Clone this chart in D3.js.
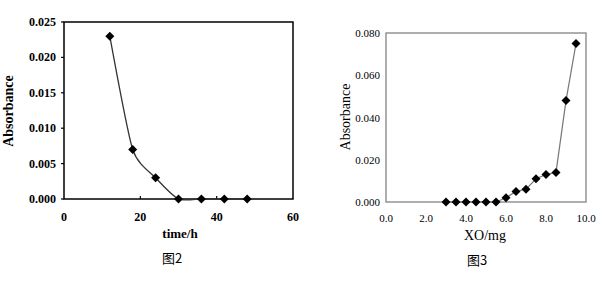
<!DOCTYPE html>
<html>
<head>
<meta charset="utf-8">
<script src="https://cdn.jsdelivr.net/npm/d3@7"></script>
<style>
  body { margin: 0; background: #fff; }
  svg { display: block; }
</style>
</head>
<body>
<svg id="chart" width="600" height="283"></svg>
<script>
// figure 2: absorbance vs time
const timeHours = [12, 18, 24, 30, 36, 42, 48];
const timeAbs = [0.023, 0.007, 0.003, 0, 0, 0, 0];
const timeXTicks = [0, 20, 40, 60];
const timeYTicks = [0, 0.005, 0.010, 0.015, 0.020, 0.025];

// figure 3: absorbance vs XO amount
const xoMg = [3, 3.5, 4, 4.5, 5, 5.5, 6, 6.5, 7, 7.5, 8, 8.5, 9, 9.5];
const xoAbs = [0, 0, 0, 0, 0, 0, 0.002, 0.005, 0.006, 0.011, 0.013, 0.014, 0.048, 0.075];
const xoXTicks = [0, 2, 4, 6, 8, 10];
const xoYTicks = [0, 0.02, 0.04, 0.06, 0.08];

const svg = d3.select("#chart");
const serif = "'Liberation Serif', 'DejaVu Serif', serif";
const cjk = "'Noto Sans CJK SC', sans-serif";
const diamond = d3.symbol().type(d3.symbolDiamond2).size(52);

// ---- left chart ----
{
  const x = d3.scaleLinear().domain([0, 60]).range([64, 293]);
  const y = d3.scaleLinear().domain([0, 0.025]).range([199, 22]);
  const g = svg.append("g");

  g.append("rect")
    .attr("x", 64).attr("y", 22)
    .attr("width", 229).attr("height", 177)
    .attr("fill", "none").attr("stroke", "#000").attr("stroke-width", 1.5);

  // small inward ticks on x axis
  g.selectAll(".xt").data(timeXTicks.slice(1, -1)).enter().append("line")
    .attr("x1", d => x(d)).attr("x2", d => x(d))
    .attr("y1", 199).attr("y2", 196)
    .attr("stroke", "#000").attr("stroke-width", 1.2);

  g.selectAll(".yt").data(timeYTicks).enter().append("line")
    .attr("x1", 61).attr("x2", 64)
    .attr("y1", d => y(d)).attr("y2", d => y(d))
    .attr("stroke", "#000").attr("stroke-width", 1.2);

  g.selectAll(".xl").data(timeXTicks).enter().append("text")
    .attr("x", d => x(d)).attr("y", 221)
    .attr("text-anchor", "middle")
    .style("font", `bold 12px ${serif}`)
    .text(d => d);

  g.selectAll(".yl").data(timeYTicks).enter().append("text")
    .attr("x", 56).attr("y", d => y(d) + 4)
    .attr("text-anchor", "end")
    .style("font", `bold 12px ${serif}`)
    .text(d => d.toFixed(3));

  const line = d3.line()
    .x((d, i) => x(timeHours[i]))
    .y(d => y(d))
    .curve(d3.curveCardinal.tension(0.35));

  g.append("path")
    .datum(timeAbs)
    .attr("d", line)
    .attr("fill", "none")
    .attr("stroke", "#333")
    .attr("stroke-width", 1.3);

  g.selectAll(".pt").data(timeAbs).enter().append("path")
    .attr("d", diamond)
    .attr("transform", (d, i) => `translate(${x(timeHours[i])},${y(d)})`)
    .attr("fill", "#000");

  g.append("text")
    .attr("x", 180).attr("y", 238)
    .attr("text-anchor", "middle")
    .style("font", `bold 13px ${serif}`)
    .text("time/h");

  g.append("text")
    .attr("transform", "translate(13,111) rotate(-90)")
    .attr("text-anchor", "middle")
    .style("font", `bold 14px ${serif}`)
    .text("Absorbance");

  g.append("text")
    .attr("x", 172).attr("y", 263)
    .attr("text-anchor", "middle")
    .style("font", `13px ${cjk}`)
    .text("图2");
}

// ---- right chart ----
{
  const x = d3.scaleLinear().domain([0, 10]).range([386, 586]);
  const y = d3.scaleLinear().domain([0, 0.08]).range([202, 33]);
  const g = svg.append("g");

  g.append("rect")
    .attr("x", 386).attr("y", 33)
    .attr("width", 200).attr("height", 169)
    .attr("fill", "none").attr("stroke", "#8c8c8c").attr("stroke-width", 1.4);

  g.selectAll(".xl").data(xoXTicks).enter().append("text")
    .attr("x", d => x(d)).attr("y", 222)
    .attr("text-anchor", "middle")
    .style("font", `11px ${serif}`)
    .text(d => d.toFixed(1));

  g.selectAll(".yl").data(xoYTicks).enter().append("text")
    .attr("x", 380).attr("y", d => y(d) + 4)
    .attr("text-anchor", "end")
    .style("font", `11px ${serif}`)
    .text(d => d.toFixed(3));

  const line = d3.line()
    .x((d, i) => x(xoMg[i]))
    .y(d => y(d));

  g.append("path")
    .datum(xoAbs)
    .attr("d", line)
    .attr("fill", "none")
    .attr("stroke", "#777")
    .attr("stroke-width", 1.2);

  g.selectAll(".pt").data(xoAbs).enter().append("path")
    .attr("d", diamond)
    .attr("transform", (d, i) => `translate(${x(xoMg[i])},${y(d)})`)
    .attr("fill", "#000");

  g.append("text")
    .attr("x", 485).attr("y", 240)
    .attr("text-anchor", "middle")
    .style("font", `14px ${serif}`)
    .text("XO/mg");

  g.append("text")
    .attr("transform", "translate(350,117) rotate(-90)")
    .attr("text-anchor", "middle")
    .style("font", `14px ${serif}`)
    .text("Absorbance");

  g.append("text")
    .attr("x", 477).attr("y", 265)
    .attr("text-anchor", "middle")
    .style("font", `13px ${cjk}`)
    .text("图3");
}
</script>
</body>
</html>
